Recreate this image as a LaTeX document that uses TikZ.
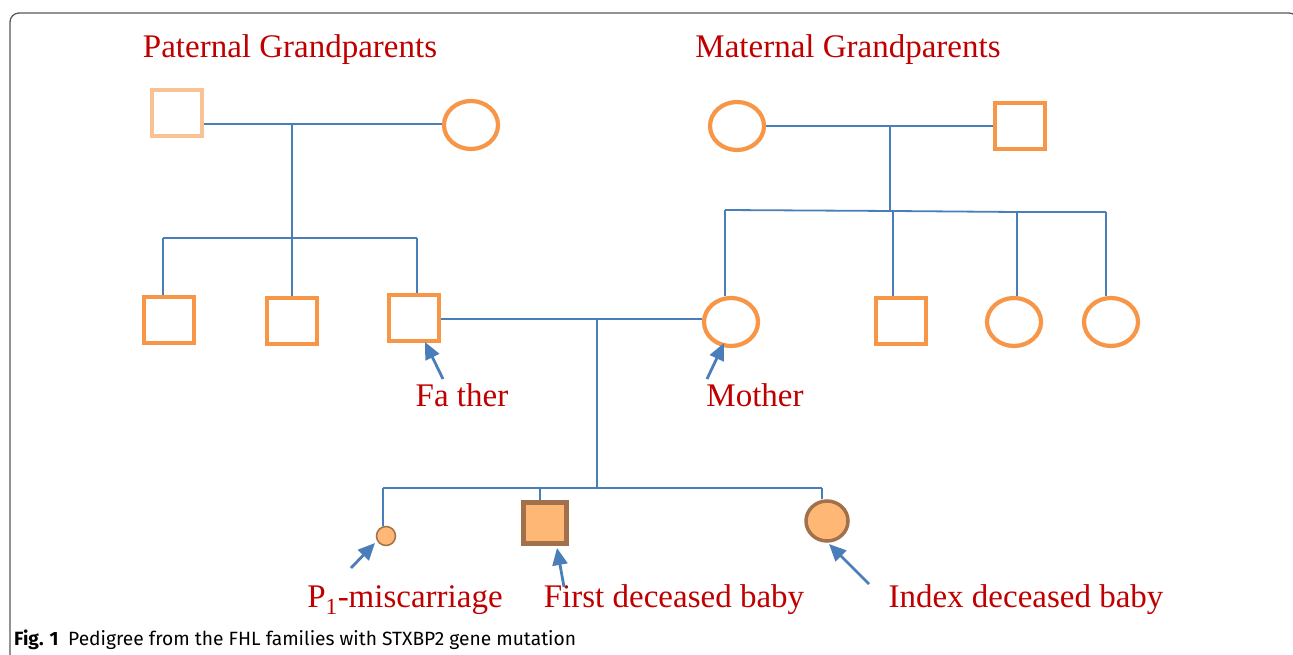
\documentclass[tikz,border=0pt]{standalone}
\usepackage{fontspec}
\setmainfont{Liberation Serif}
\newfontfamily\capfont{Fira Sans}
\usetikzlibrary{shapes.geometric,arrows.meta}
\definecolor{ped}{HTML}{F79646}
\definecolor{pedfade}{HTML}{F9C292}
\definecolor{link}{HTML}{4A7EBB}
\definecolor{lab}{HTML}{C00000}
\definecolor{affill}{HTML}{FFB776}
\definecolor{afdraw}{HTML}{A0714A}
\tikzset{
  male/.style={draw=ped, line width=4.5pt, minimum width=50pt, minimum height=46pt, inner sep=0pt, fill=white},
  female/.style={ellipse, draw=ped, line width=4.2pt, minimum width=54pt, minimum height=48pt, inner sep=0pt, fill=white},
  conn/.style={draw=link, line width=1.8pt},
  pointer/.style={draw=link, line width=2.8pt, -{Triangle[length=17pt,width=15pt]}},
  lbl/.style={text=lab, font=\fontsize{33}{38}\selectfont, inner sep=0pt},
}
\begin{document}
\begin{tikzpicture}[x=1pt,y=-1pt]
\clip (0,0) rectangle (1293,655);
\fill[white] (0,0) rectangle (1293,655);
\draw[black!65, line width=1.3pt, rounded corners=9pt] (10,13) rectangle (1298,700);

% titles
\node[lbl] (pgt) at (290,50) {Paternal Grandparents};
\node[lbl] (mgt) at (848,50) {Maternal Grandparents};

% paternal grandparents
\node[male, draw=pedfade] (pgf) at (177,113) {};
\node[female] (pgm) at (471,125) {};
\coordinate (pj) at (292,124);
\draw[conn] (pgf.east |- pj) -- (pgm.west |- pj);
\coordinate (pb) at (292,238);
\draw[conn] (pj) -- (pb);

% paternal children
\node[male] (u1) at (169,320) {};
\node[male] (u2) at (292,321) {};
\node[male] (fa) at (414,318) {};
\coordinate (pl) at (163,238);
\coordinate (pr) at (417,238);
\draw[conn] (pl) -- (pr);
\draw[conn] (pl) -- (pl |- u1.north);
\draw[conn] (pb) -- (pb |- u2.north);
\draw[conn] (pr) -- (pr |- fa.north);

% maternal grandparents
\node[female] (mgm) at (737,126) {};
\node[male] (mgf) at (1020,126) {};
\draw[conn] (mgm.east) -- (mgf.west);
\coordinate (mj) at (890,126);
\coordinate (mb) at (890,211);
\draw[conn] (mj) -- (mb);

% maternal children
\node[female] (mo) at (731,322) {};
\node[male] (a1) at (901,321) {};
\node[female] (a2) at (1014,322) {};
\node[female] (a3) at (1111,322) {};
\coordinate (ml) at (725,210);
\coordinate (m2) at (893,211);
\coordinate (m3) at (1017,212);
\coordinate (mr) at (1106,212);
\draw[conn] (ml) -- (m2) -- (m3) -- (mr);
\draw[conn] (ml) -- (ml |- mo.north);
\draw[conn] (m2) -- (m2 |- a1.north);
\draw[conn] (m3) -- (m3 |- a2.north);
\draw[conn] (mr) -- (mr |- a3.north);

% parents
\coordinate (cj) at (597,319);
\draw[conn] (fa.east |- cj) -- (mo.west |- cj);
\coordinate (cb) at (597,488);
\draw[conn] (cj) -- (cb);

% children
\node[ellipse, draw=afdraw, fill=affill, line width=1.5pt, minimum size=19pt, inner sep=0pt] (p1) at (386,536) {};
\node[draw=afdraw, fill=affill, line width=4.5pt, minimum width=43pt, minimum height=41pt, inner sep=0pt] (fb) at (545,523) {};
\node[ellipse, draw=afdraw, fill=affill, line width=3.5pt, minimum width=42pt, minimum height=40pt, inner sep=0pt] (ib) at (827,521) {};
\coordinate (cl) at (383,488);
\coordinate (cm) at (540,488);
\coordinate (cr) at (822,488);
\draw[conn] (cl) -- (cr);
\draw[conn] (cl) -- (cl |- p1.north);
\draw[conn] (cm) -- (cm |- fb.north);
\draw[conn] (cr) -- (cr |- ib.north);

% labels
\node[lbl] (lfa) at (462,395) {Fa ther};
\node[lbl] (lmo) at (755,395) {Mother};
\node[lbl] (lp1) at (405,600) {P\textsubscript{1}-miscarriage};
\node[lbl] (lfb) at (674,600) {First deceased baby};
\node[lbl] (lib) at (1026,600) {Index deceased baby};

\coordinate (afa) at (443,379);
\coordinate (amo) at (707,379);
\coordinate (ap1) at (351,568);
\coordinate (afb) at (564,587);
\coordinate (aib) at (869,584);
\draw[pointer] (afa) -- (425,342);
\draw[pointer] (amo) -- (724,343);
\draw[pointer] (ap1) -- (375,543);
\draw[pointer] (afb) -- (557,548);
\draw[pointer] (aib) -- (829,544);

% caption
\node[anchor=base west, inner sep=0pt, font=\capfont\fontsize{19.2}{22}\selectfont] (cap) at (14,645) {\textbf{Fig. 1}\enspace Pedigree from the FHL families with STXBP2 gene mutation};
\end{tikzpicture}
\end{document}
